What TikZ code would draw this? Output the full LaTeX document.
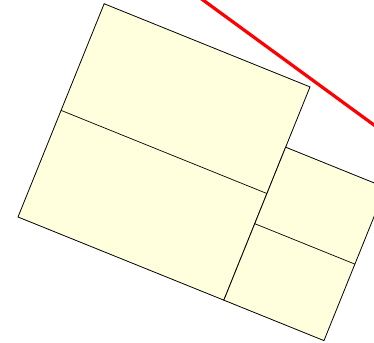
\documentclass[tikz,border=0pt]{standalone}
\usepackage{xcolor}
\usepackage{tikz}
\usetikzlibrary{positioning, calc}
\definecolor{paleyellow}{RGB}{255,255,221}

\begin{document}
\begin{tikzpicture}[x=1pt, y=1pt, cell/.style={draw=black, fill=paleyellow, line width=0.8pt}, split/.style={draw=black, line width=0.7pt}]
\useasboundingbox (0,0) rectangle (374,-342);
\clip (0,0) rectangle (374,-342);

% tilted blocks
\begin{scope}[shift={(18,-217)}, rotate=-22]
\path[cell] (0,0) rectangle (222,230);
\draw[split] (0,115) -- (222,115);
\path[cell] (222,0) rectangle (330,165);
\draw[split] (222,82.5) -- (330,82.5);
\end{scope}

% red line
\coordinate (redstart) at (190,9.5);
\coordinate (redend) at (390,-136.7);
\draw[red, line width=3.2pt] (redstart) -- (redend);
\end{tikzpicture}
\end{document}
